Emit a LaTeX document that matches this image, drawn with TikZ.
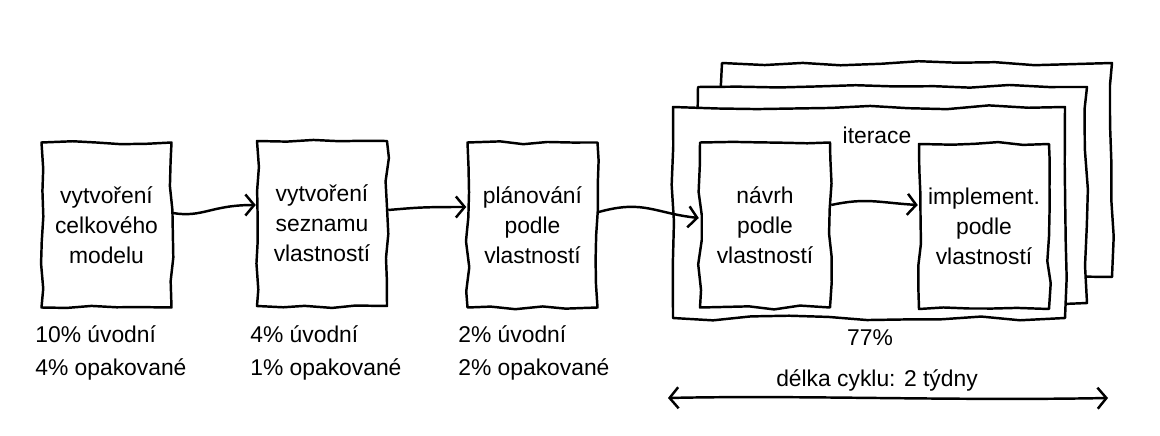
\documentclass[tikz,border=0pt]{standalone}
\usepackage{fontspec}
\setmainfont{Liberation Sans}
\usetikzlibrary{arrows.meta,decorations.pathmorphing}

\begin{document}
\pgfmathsetseed{7}
\begin{tikzpicture}[
  box/.style={draw, fill=white, line width=1.4pt, line join=round, decorate, decoration={random steps, segment length=14pt, amplitude=1.1pt}, minimum width=2.6cm, minimum height=3.3cm, align=center, font=\fontsize{13}{17}\selectfont},
  frame/.style={draw, fill=white, line width=1.4pt, line join=round, decorate, decoration={random steps, segment length=22pt, amplitude=1.4pt}},
  lbl/.style={align=left, anchor=west, inner sep=0pt, font=\fontsize{13}{19}\selectfont},
  txt/.style={inner sep=1pt, font=\fontsize{13}{17}\selectfont},
  arr/.style={-{Straight Barb[length=5pt, width=12pt, line width=1.4pt]}, line width=1.4pt},
  dblarr/.style={{Straight Barb[length=5pt, width=12pt, line width=1.4pt]}-{Straight Barb[length=5pt, width=12pt, line width=1.4pt]}, line width=1.4pt}
]
\useasboundingbox (0,0) rectangle (23.2,-8.72);

% Iteration frames, back to front
\node[frame, minimum width=7.8cm, minimum height=4.28cm] (itBack) at (18.34,-3.4) {};
\node[frame, minimum width=7.78cm, minimum height=4.32cm] (itMid) at (17.85,-3.9) {};
\node[frame, minimum width=7.84cm, minimum height=4.22cm] (itFront) at (17.38,-4.25) {};
\node[txt] (iter) at (17.54,-2.7) {iterace};

% Steps
\node[box] (model) at (2.13,-4.5) {vytvoření\\celkového\\modelu};
\node[box] (list) at (6.44,-4.47) {vytvoření\\seznamu\\vlastností};
\node[box] (plan) at (10.65,-4.5) {plánování\\podle\\vlastností};
\node[box] (design) at (15.3,-4.5) {návrh\\podle\\vlastností};
\node[box] (build) at (19.68,-4.53) {implement.\\podle\\vlastností};

\draw[arr] ([yshift=0.24cm]model.east) .. controls +(0.6,-0.1) and +(-0.9,0) .. ([yshift=0.37cm]list.west);
\draw[arr] ([yshift=0.27cm]list.east) .. controls +(0.6,0.05) and +(-0.9,0) .. ([yshift=0.36cm]plan.west);
\draw[arr] ([yshift=0.26cm]plan.east) .. controls +(0.9,0.25) and +(-0.9,0.1) .. ([yshift=0.14cm]design.west);
\draw[arr] ([yshift=0.4cm]design.east) .. controls +(0.7,0.15) and +(-0.8,0.05) .. ([yshift=0.43cm]build.west);

% Shares of effort
\node[lbl] (modelPct) at (0.7,-7.06) {10\% úvodní\\4\% opakované};
\node[lbl] (listPct) at (5.0,-7.06) {4\% úvodní\\1\% opakované};
\node[lbl] (planPct) at (9.16,-7.06) {2\% úvodní\\2\% opakované};
\node[txt] (iterPct) at (17.4,-6.76) {77\%};

% Cycle length
\node[txt] (cycle) at (17.54,-7.6) {délka cyklu: 2 týdny};
\coordinate (cycL) at (13.36,-7.96);
\coordinate (cycR) at (22.16,-7.96);
\draw[dblarr] (cycL) .. controls (16,-7.9) and (19,-8.02) .. (cycR);

\end{tikzpicture}
\end{document}
